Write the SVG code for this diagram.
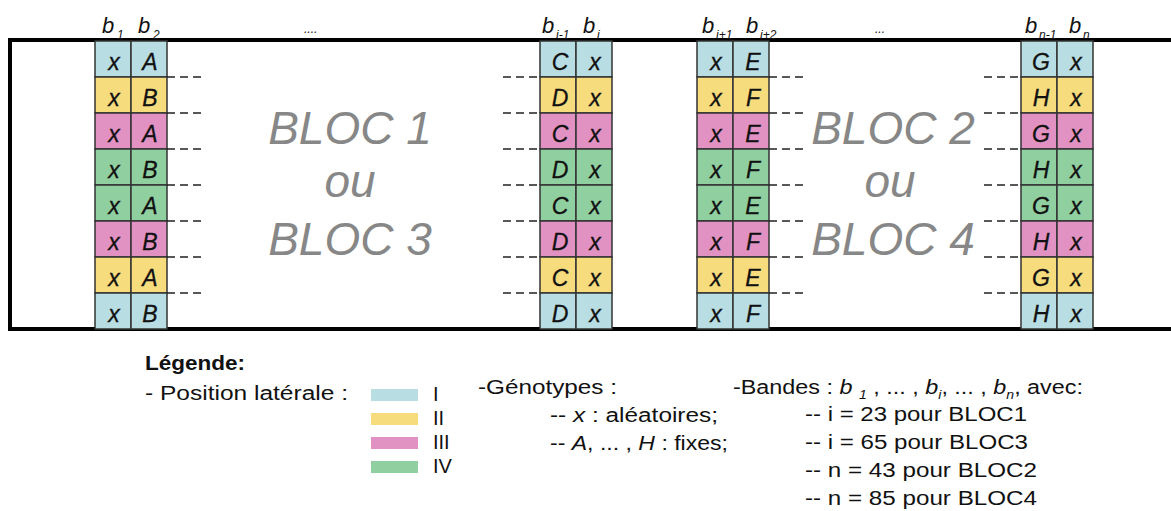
<svg xmlns="http://www.w3.org/2000/svg" width="1171" height="511" viewBox="0 0 1171 511">
<style>
.c1{fill:#b8dee3}.c2{fill:#f7dc7e}.c3{fill:#e292c2}.c4{fill:#90d0a0}
.cell rect{stroke:#333;stroke-width:1.5}
.cell text{font-family:"Liberation Sans",Arial,sans-serif;font-style:italic;font-size:23px;fill:#111;stroke:#111;stroke-width:0.3;text-anchor:middle}
.dash line{stroke:#222;stroke-width:1.5;stroke-dasharray:8 5}
.hb{font-family:"Liberation Sans",Arial,sans-serif;font-style:italic;font-size:22px;fill:#111}
.hs{font-family:"Liberation Sans",Arial,sans-serif;font-style:italic;font-size:12px;fill:#111}
.bloc{font-family:"Liberation Sans",Arial,sans-serif;font-style:italic;font-size:46px;fill:#878787;text-anchor:middle}
.lg{font-family:"Liberation Sans",Arial,sans-serif;font-size:20px;fill:#111}
.it{font-style:italic}
</style>
<rect x="0" y="0" width="1171" height="511" fill="#fff"/>
<rect id="frame" x="10" y="40" width="1200" height="289" fill="none" stroke="#000" stroke-width="4"/>

<g id="headers">
<text class="hb" x="102" y="33">b</text><text class="hs" x="117" y="39">1</text>
<text class="hb" x="138" y="33">b</text><text class="hs" x="153" y="39">2</text>
<text class="hs" x="304" y="33">....</text>
<text class="hb" x="542" y="33">b</text><text class="hs" x="556" y="39">i-1</text>
<text class="hb" x="583" y="33">b</text><text class="hs" x="597" y="39">i</text>
<text class="hb" x="702" y="33">b</text><text class="hs" x="716" y="39">i+1</text>
<text class="hb" x="746" y="33">b</text><text class="hs" x="760" y="39">i+2</text>
<text class="hs" x="875" y="33">...</text>
<text class="hb" x="1025" y="33">b</text><text class="hs" x="1039" y="39">n-1</text>
<text class="hb" x="1069" y="33">b</text><text class="hs" x="1083" y="39">n</text>
</g>

<g id="pair1" class="cell">
<rect class="c1" x="95" y="41" width="36" height="36"/><rect class="c1" x="131" y="41" width="36" height="36"/>
<rect class="c2" x="95" y="77" width="36" height="36"/><rect class="c2" x="131" y="77" width="36" height="36"/>
<rect class="c3" x="95" y="113" width="36" height="36"/><rect class="c3" x="131" y="113" width="36" height="36"/>
<rect class="c4" x="95" y="149" width="36" height="36"/><rect class="c4" x="131" y="149" width="36" height="36"/>
<rect class="c4" x="95" y="185" width="36" height="36"/><rect class="c4" x="131" y="185" width="36" height="36"/>
<rect class="c3" x="95" y="221" width="36" height="36"/><rect class="c3" x="131" y="221" width="36" height="36"/>
<rect class="c2" x="95" y="257" width="36" height="36"/><rect class="c2" x="131" y="257" width="36" height="36"/>
<rect class="c1" x="95" y="293" width="36" height="36"/><rect class="c1" x="131" y="293" width="36" height="36"/>
<text x="114" y="70">x</text><text x="150" y="70">A</text>
<text x="114" y="106">x</text><text x="150" y="106">B</text>
<text x="114" y="142">x</text><text x="150" y="142">A</text>
<text x="114" y="178">x</text><text x="150" y="178">B</text>
<text x="114" y="214">x</text><text x="150" y="214">A</text>
<text x="114" y="250">x</text><text x="150" y="250">B</text>
<text x="114" y="286">x</text><text x="150" y="286">A</text>
<text x="114" y="322">x</text><text x="150" y="322">B</text>
</g>

<g id="pair2" class="cell">
<rect class="c1" x="540" y="41" width="36" height="36"/><rect class="c1" x="576" y="41" width="36" height="36"/>
<rect class="c2" x="540" y="77" width="36" height="36"/><rect class="c2" x="576" y="77" width="36" height="36"/>
<rect class="c3" x="540" y="113" width="36" height="36"/><rect class="c3" x="576" y="113" width="36" height="36"/>
<rect class="c4" x="540" y="149" width="36" height="36"/><rect class="c4" x="576" y="149" width="36" height="36"/>
<rect class="c4" x="540" y="185" width="36" height="36"/><rect class="c4" x="576" y="185" width="36" height="36"/>
<rect class="c3" x="540" y="221" width="36" height="36"/><rect class="c3" x="576" y="221" width="36" height="36"/>
<rect class="c2" x="540" y="257" width="36" height="36"/><rect class="c2" x="576" y="257" width="36" height="36"/>
<rect class="c1" x="540" y="293" width="36" height="36"/><rect class="c1" x="576" y="293" width="36" height="36"/>
<text x="560" y="70">C</text><text x="595" y="70">x</text>
<text x="560" y="106">D</text><text x="595" y="106">x</text>
<text x="560" y="142">C</text><text x="595" y="142">x</text>
<text x="560" y="178">D</text><text x="595" y="178">x</text>
<text x="560" y="214">C</text><text x="595" y="214">x</text>
<text x="560" y="250">D</text><text x="595" y="250">x</text>
<text x="560" y="286">C</text><text x="595" y="286">x</text>
<text x="560" y="322">D</text><text x="595" y="322">x</text>
</g>

<g id="pair3" class="cell">
<rect class="c1" x="697" y="41" width="36" height="36"/><rect class="c1" x="733" y="41" width="36" height="36"/>
<rect class="c2" x="697" y="77" width="36" height="36"/><rect class="c2" x="733" y="77" width="36" height="36"/>
<rect class="c3" x="697" y="113" width="36" height="36"/><rect class="c3" x="733" y="113" width="36" height="36"/>
<rect class="c4" x="697" y="149" width="36" height="36"/><rect class="c4" x="733" y="149" width="36" height="36"/>
<rect class="c4" x="697" y="185" width="36" height="36"/><rect class="c4" x="733" y="185" width="36" height="36"/>
<rect class="c3" x="697" y="221" width="36" height="36"/><rect class="c3" x="733" y="221" width="36" height="36"/>
<rect class="c2" x="697" y="257" width="36" height="36"/><rect class="c2" x="733" y="257" width="36" height="36"/>
<rect class="c1" x="697" y="293" width="36" height="36"/><rect class="c1" x="733" y="293" width="36" height="36"/>
<text x="716" y="70">x</text><text x="753" y="70">E</text>
<text x="716" y="106">x</text><text x="753" y="106">F</text>
<text x="716" y="142">x</text><text x="753" y="142">E</text>
<text x="716" y="178">x</text><text x="753" y="178">F</text>
<text x="716" y="214">x</text><text x="753" y="214">E</text>
<text x="716" y="250">x</text><text x="753" y="250">F</text>
<text x="716" y="286">x</text><text x="753" y="286">E</text>
<text x="716" y="322">x</text><text x="753" y="322">F</text>
</g>

<g id="pair4" class="cell">
<rect class="c1" x="1021" y="41" width="36" height="36"/><rect class="c1" x="1057" y="41" width="36" height="36"/>
<rect class="c2" x="1021" y="77" width="36" height="36"/><rect class="c2" x="1057" y="77" width="36" height="36"/>
<rect class="c3" x="1021" y="113" width="36" height="36"/><rect class="c3" x="1057" y="113" width="36" height="36"/>
<rect class="c4" x="1021" y="149" width="36" height="36"/><rect class="c4" x="1057" y="149" width="36" height="36"/>
<rect class="c4" x="1021" y="185" width="36" height="36"/><rect class="c4" x="1057" y="185" width="36" height="36"/>
<rect class="c3" x="1021" y="221" width="36" height="36"/><rect class="c3" x="1057" y="221" width="36" height="36"/>
<rect class="c2" x="1021" y="257" width="36" height="36"/><rect class="c2" x="1057" y="257" width="36" height="36"/>
<rect class="c1" x="1021" y="293" width="36" height="36"/><rect class="c1" x="1057" y="293" width="36" height="36"/>
<text x="1041" y="70">G</text><text x="1076" y="70">x</text>
<text x="1041" y="106">H</text><text x="1076" y="106">x</text>
<text x="1041" y="142">G</text><text x="1076" y="142">x</text>
<text x="1041" y="178">H</text><text x="1076" y="178">x</text>
<text x="1041" y="214">G</text><text x="1076" y="214">x</text>
<text x="1041" y="250">H</text><text x="1076" y="250">x</text>
<text x="1041" y="286">G</text><text x="1076" y="286">x</text>
<text x="1041" y="322">H</text><text x="1076" y="322">x</text>
</g>

<g id="connectors" class="dash">
<line x1="167" y1="77" x2="203" y2="77"/><line x1="167" y1="113" x2="203" y2="113"/><line x1="167" y1="149" x2="203" y2="149"/><line x1="167" y1="185" x2="203" y2="185"/><line x1="167" y1="221" x2="203" y2="221"/><line x1="167" y1="257" x2="203" y2="257"/><line x1="167" y1="293" x2="203" y2="293"/>
<line x1="503" y1="77" x2="540" y2="77"/><line x1="503" y1="113" x2="540" y2="113"/><line x1="503" y1="149" x2="540" y2="149"/><line x1="503" y1="185" x2="540" y2="185"/><line x1="503" y1="221" x2="540" y2="221"/><line x1="503" y1="257" x2="540" y2="257"/><line x1="503" y1="293" x2="540" y2="293"/>
<line x1="769" y1="77" x2="806" y2="77"/><line x1="769" y1="113" x2="806" y2="113"/><line x1="769" y1="149" x2="806" y2="149"/><line x1="769" y1="185" x2="806" y2="185"/><line x1="769" y1="221" x2="806" y2="221"/><line x1="769" y1="257" x2="806" y2="257"/><line x1="769" y1="293" x2="806" y2="293"/>
<line x1="984" y1="77" x2="1021" y2="77"/><line x1="984" y1="113" x2="1021" y2="113"/><line x1="984" y1="149" x2="1021" y2="149"/><line x1="984" y1="185" x2="1021" y2="185"/><line x1="984" y1="221" x2="1021" y2="221"/><line x1="984" y1="257" x2="1021" y2="257"/><line x1="984" y1="293" x2="1021" y2="293"/>
</g>

<g id="bloc13">
<text class="bloc" x="350" y="144">BLOC 1</text>
<text class="bloc" x="350" y="197">ou</text>
<text class="bloc" x="350" y="255">BLOC 3</text>
</g>
<g id="bloc24">
<text class="bloc" x="893" y="144">BLOC 2</text>
<text class="bloc" x="890" y="197">ou</text>
<text class="bloc" x="893" y="255">BLOC 4</text>
</g>

<g id="legend">
<text class="lg" x="145" y="370" font-weight="bold" textLength="100" lengthAdjust="spacingAndGlyphs">Légende:</text>
<text class="lg" x="145" y="400" textLength="203" lengthAdjust="spacingAndGlyphs">- Position latérale :</text>
<rect class="c1" x="371" y="389" width="47" height="12"/>
<rect class="c2" x="371" y="413" width="47" height="12"/>
<rect class="c3" x="371" y="437" width="47" height="12"/>
<rect class="c4" x="371" y="461" width="47" height="12"/>
<text class="lg" x="433" y="401" font-size="19">I</text>
<text class="lg" x="433" y="425" font-size="19">II</text>
<text class="lg" x="433" y="449" font-size="19">III</text>
<text class="lg" x="433" y="473" font-size="19">IV</text>
<text class="lg" x="478" y="394" textLength="139" lengthAdjust="spacingAndGlyphs">-Génotypes :</text>
<text class="lg" x="550" y="422" textLength="168" lengthAdjust="spacingAndGlyphs">-- <tspan class="it">x</tspan> : aléatoires;</text>
<text class="lg" x="550" y="450" textLength="178" lengthAdjust="spacingAndGlyphs">-- <tspan class="it">A</tspan>, ... , <tspan class="it">H</tspan> : fixes;</text>
<text class="lg" x="733" y="394" textLength="350" lengthAdjust="spacingAndGlyphs">-Bandes : <tspan class="it">b</tspan> <tspan class="it" font-size="12" dy="5">1</tspan><tspan dy="-5"> , ... , </tspan><tspan class="it">b</tspan><tspan class="it" font-size="12" dy="5">i</tspan><tspan dy="-5">, ... , </tspan><tspan class="it">b</tspan><tspan class="it" font-size="12" dy="5">n</tspan><tspan dy="-5">, avec:</tspan></text>
<text class="lg" x="805" y="421" textLength="222" lengthAdjust="spacingAndGlyphs">-- i = 23 pour BLOC1</text>
<text class="lg" x="805" y="449" textLength="223" lengthAdjust="spacingAndGlyphs">-- i = 65 pour BLOC3</text>
<text class="lg" x="805" y="477" textLength="232" lengthAdjust="spacingAndGlyphs">-- n = 43 pour BLOC2</text>
<text class="lg" x="805" y="505" textLength="232" lengthAdjust="spacingAndGlyphs">-- n = 85 pour BLOC4</text>
</g>
</svg>
